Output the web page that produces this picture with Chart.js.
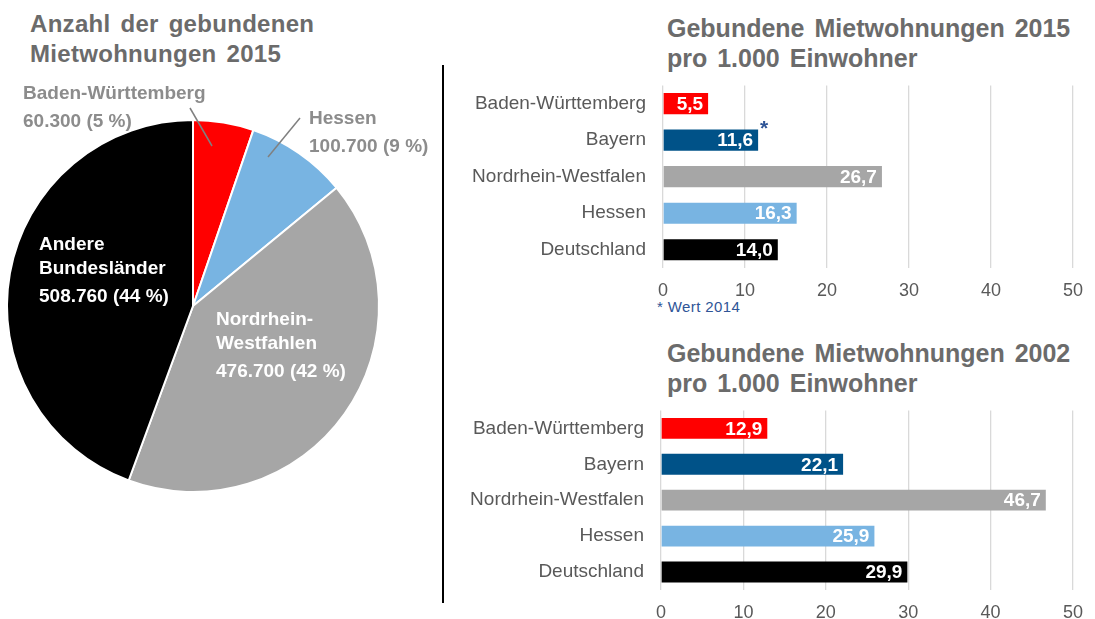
<!DOCTYPE html>
<html>
<head>
<meta charset="utf-8">
<script src="https://cdn.jsdelivr.net/npm/chart.js@4.4.0/dist/chart.umd.min.js"></script>
<style>
  body { margin:0; background:#fff; width:1095px; height:619px; overflow:hidden; position:relative; font-family:"Liberation Sans", Arial, sans-serif; }
  canvas { position:absolute; }
  .title { position:absolute; font-weight:bold; color:#6b6b6b; white-space:nowrap; }
  #pieTitle { left:30px; top:9px; font-size:24px; line-height:30px; letter-spacing:0.3px; word-spacing:3px; }
  #barTitle1 { left:667px; top:13px; font-size:25px; line-height:30px; word-spacing:3px; }
  #barTitle2 { left:667px; top:338px; font-size:25px; line-height:30px; word-spacing:3px; }
  #divider { position:absolute; left:442px; top:65px; width:2px; height:538px; background:#000; }
  #note { position:absolute; left:657px; top:298px; font-size:15px; letter-spacing:0.4px; color:#2f5597; }
</style>
</head>
<body>
<div class="title" id="pieTitle">Anzahl der gebundenen<br>Mietwohnungen 2015</div>
<div class="title" id="barTitle1">Gebundene Mietwohnungen 2015<br>pro 1.000 Einwohner</div>
<div class="title" id="barTitle2">Gebundene Mietwohnungen 2002<br>pro 1.000 Einwohner</div>
<div id="divider"></div>
<div id="note">* Wert 2014</div>

<canvas id="pie" width="440" height="619" style="left:0;top:0"></canvas>
<canvas id="bar2015" width="652" height="263" style="left:443px;top:57px"></canvas>
<canvas id="bar2002" width="652" height="237" style="left:443px;top:382px"></canvas>

<script>
// pie: Anzahl der gebundenen Mietwohnungen 2015
const pieNames = ['Baden-Württemberg', 'Hessen', 'Nordrhein-\nWestfahlen', 'Andere\nBundesländer'];
const pieValues = [60300, 100700, 476700, 508760];
const pieColors = ['#ff0000', '#78b4e2', '#a6a6a6', '#000000'];

// bars: pro 1.000 Einwohner
const barNames = ['Baden-Württemberg', 'Bayern', 'Nordrhein-Westfalen', 'Hessen', 'Deutschland'];
const values2015 = [5.5, 11.6, 26.7, 16.3, 14.0];
const values2002 = [12.9, 22.1, 46.7, 25.9, 29.9];
const barColors = ['#ff0000', '#005288', '#a6a6a6', '#78b4e2', '#000000'];
const xTicks = [0, 10, 20, 30, 40, 50];

const FONT = '"Liberation Sans", Arial, sans-serif';
const grey = '#595959';

function thousands(v) {
  return String(v).replace(/\B(?=(\d{3})+(?!\d))/g, '.');
}
function comma(v) {
  return v.toFixed(1).replace('.', ',');
}

// label placement for the pie (offset from pie centre), leader lines for the small slices
const pieLabelPos = [
  { dx: -170, dy: -207, color: '#8c8c8c', line: [-3, -198, 19, -160] },
  { dx: 116, dy: -182, color: '#8c8c8c', line: [107, -188, 75, -149] },
  { dx: 23, dy: 19, color: '#ffffff' },
  { dx: -154, dy: -56, color: '#ffffff' }
];

const pieLabelPlugin = {
  id: 'pieLabels',
  afterDatasetsDraw(chart) {
    const ctx = chart.ctx;
    const arc = chart.getDatasetMeta(0).data[0];
    const cx = arc.x, cy = arc.y;
    const total = pieValues.reduce((a, b) => a + b, 0);
    ctx.save();
    ctx.font = 'bold 19px ' + FONT;
    ctx.textAlign = 'left';
    ctx.textBaseline = 'alphabetic';
    pieNames.forEach((name, i) => {
      const p = pieLabelPos[i];
      const lines = name.split('\n');
      lines.push(thousands(pieValues[i]) + ' (' + Math.round(pieValues[i] / total * 100) + ' %)');
      ctx.fillStyle = p.color;
      let y = cy + p.dy;
      lines.forEach((t, k) => {
        ctx.fillText(t, cx + p.dx, y);
        y += (k === lines.length - 2) ? 28 : (lines.length > 2 ? 24 : 28);
      });
      if (p.line) {
        ctx.strokeStyle = '#808080';
        ctx.lineWidth = 1.5;
        ctx.beginPath();
        ctx.moveTo(cx + p.line[0], cy + p.line[1]);
        ctx.lineTo(cx + p.line[2], cy + p.line[3]);
        ctx.stroke();
      }
    });
    ctx.restore();
  }
};

new Chart(document.getElementById('pie'), {
  type: 'pie',
  data: {
    labels: pieNames,
    datasets: [{
      data: pieValues,
      backgroundColor: pieColors,
      borderColor: '#ffffff',
      borderWidth: 2
    }]
  },
  options: {
    responsive: false,
    animation: false,
    devicePixelRatio: 1,
    layout: { padding: { left: 6, top: 119, right: 60, bottom: 126 } },
    plugins: { legend: { display: false }, tooltip: { enabled: false } }
  },
  plugins: [pieLabelPlugin]
});

const valueLabelPlugin = {
  id: 'valueLabels',
  afterDatasetsDraw(chart, args, opts) {
    const ctx = chart.ctx;
    const meta = chart.getDatasetMeta(0);
    const data = chart.data.datasets[0].data;
    ctx.save();
    ctx.font = 'bold 19px ' + FONT;
    ctx.fillStyle = '#ffffff';
    ctx.textAlign = 'right';
    ctx.textBaseline = 'middle';
    meta.data.forEach((bar, i) => {
      ctx.fillText(comma(data[i]), bar.x - 5, bar.y + 1);
    });
    if (opts.star !== undefined) {
      const bar = meta.data[opts.star];
      ctx.fillStyle = '#2f5597';
      ctx.textAlign = 'left';
      ctx.font = 'bold 21px ' + FONT;
      ctx.fillText('*', bar.x + 2, bar.y - 11);
    }
    ctx.restore();
  }
};

function barChart(id, values, yWidth, pad, xHeight, star) {
  return new Chart(document.getElementById(id), {
    type: 'bar',
    data: {
      labels: barNames,
      datasets: [{
        data: values,
        backgroundColor: barColors,
        borderWidth: 0,
        barPercentage: 0.58,
        categoryPercentage: 1
      }]
    },
    options: {
      indexAxis: 'y',
      responsive: false,
      animation: false,
      devicePixelRatio: 1,
      layout: { padding: pad },
      scales: {
        x: {
          min: 0,
          max: 50,
          afterBuildTicks: s => { s.ticks = xTicks.map(v => ({ value: v })); },
          afterFit: s => { s.height = xHeight; },
          grid: { color: '#d9d9d9', lineWidth: 1.3, drawTicks: false },
          border: { display: false },
          ticks: { color: grey, padding: 12, font: { family: FONT, size: 18 } }
        },
        y: {
          afterFit: s => { s.width = yWidth; },
          grid: { display: false, drawTicks: false },
          border: { display: false },
          ticks: { color: grey, padding: 17, font: { family: FONT, size: 19 } }
        }
      },
      plugins: {
        legend: { display: false },
        tooltip: { enabled: false },
        valueLabels: { star: star }
      }
    },
    plugins: [valueLabelPlugin]
  });
}

barChart('bar2015', values2015, 220, { top: 17, right: 12, bottom: 12, left: 0 }, 40, 1);
barChart('bar2002', values2002, 218, { top: 15, right: 21, bottom: 0, left: 0 }, 29);
</script>
</body>
</html>
